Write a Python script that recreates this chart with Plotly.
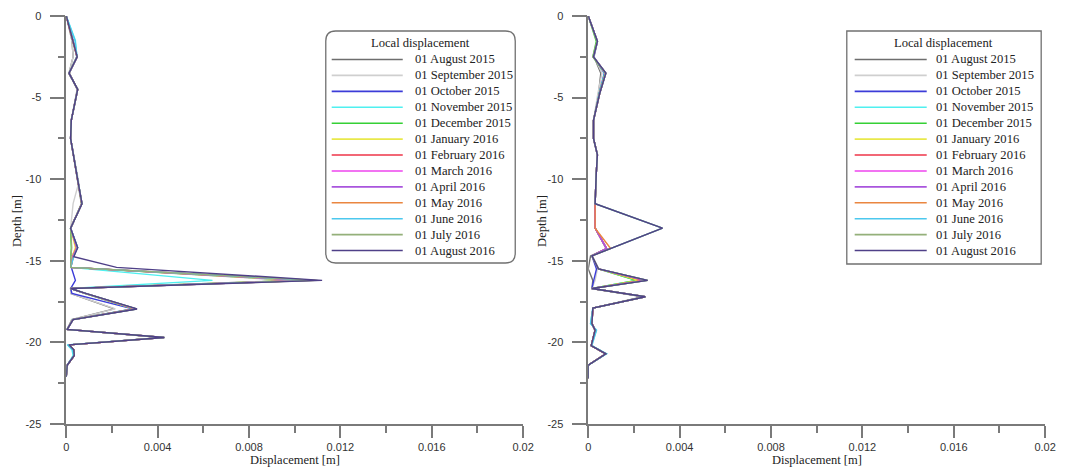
import plotly.graph_objects as go

# ---------------- data ----------------
series_names = ["01 August 2015", "01 September 2015", "01 October 2015", "01 November 2015",
                "01 December 2015", "01 January 2016", "01 February 2016", "01 March 2016",
                "01 April 2016", "01 May 2016", "01 June 2016", "01 July 2016", "01 August 2016"]
series_colors = ["#6e6e6e", "#cfcfcf", "#3c3cd8", "#4ff0f0", "#35d035", "#e8e84a", "#ee3548",
                 "#ee45ee", "#a955dd", "#ea8640", "#4cc8ee", "#94b07a", "#4f4088"]

# left borehole: depth grid [m]
left_depth = [0, -1.5, -2.5, -3.5, -4.5, -6.4, -7.5, -10.2, -11.5, -13.0, -14.2, -14.75, -15.4,
              -16.2, -16.7, -17.0, -17.95, -18.6, -19.2, -19.7, -20.15, -20.45, -20.8, -21.4, -22.1]
left_aug15 = [0, 0.00025, 0.00030, 0.00012, 0.00048, 0.00022, 0.00019, 0.00050, 0.00066, 0.00019, 0.00048, 0.00030, 0.00020,
              0.01000, 0.00019, 0.00020, 0.00210, 0.00024, 0.00004, 0.00420, 0.00012, 0.00033, 0.00035, 0.00004, 0]
left_sep15 = [0, 0.00025, 0.00030, 0.00012, 0.00048, 0.00022, 0.00019, 0.00055, 0.00030, 0.00019, 0.00048, 0.00030, 0.00020,
              0.00980, 0.00019, 0.00020, 0.00215, 0.00024, 0.00004, 0.00415, 0.00012, 0.00033, 0.00035, 0.00004, 0]
left_oct15 = [0, 0.00030, 0.00046, 0.00012, 0.00050, 0.00022, 0.00019, 0.00052, 0.00068, 0.00019, 0.00050, 0.00022, 0.00022,
              0.00040, 0.00019, 0.00025, 0.00290, 0.00028, 0.00004, 0.00425, 0.00012, 0.00033, 0.00035, 0.00004, 0]
left_nov15 = [0, 0.00040, 0.00046, 0.00012, 0.00050, 0.00022, 0.00019, 0.00052, 0.00068, 0.00019, 0.00050, 0.00025, 0.00020,
              0.00640, 0.00019, 0.00080, 0.00295, 0.00028, 0.00004, 0.00425, 0.00005, 0.00025, 0.00030, 0.00004, 0]
left_dec15 = [0, 0.00030, 0.00047, 0.00012, 0.00050, 0.00022, 0.00019, 0.00052, 0.00068, 0.00019, 0.00022, 0.00020, 0.00020,
              0.01020, 0.00019, 0.00080, 0.00295, 0.00028, 0.00004, 0.00425, 0.00012, 0.00033, 0.00035, 0.00004, 0]
left_jan16 = [0, 0.00030, 0.00047, 0.00012, 0.00050, 0.00022, 0.00019, 0.00052, 0.00068, 0.00019, 0.00040, 0.00025, 0.00020,
              0.01030, 0.00019, 0.00082, 0.00298, 0.00029, 0.00004, 0.00426, 0.00012, 0.00033, 0.00035, 0.00004, 0]
left_feb16 = [0, 0.00030, 0.00047, 0.00012, 0.00050, 0.00022, 0.00019, 0.00052, 0.00068, 0.00019, 0.00045, 0.00028, 0.00020,
              0.01060, 0.00019, 0.00083, 0.00300, 0.00029, 0.00004, 0.00427, 0.00012, 0.00033, 0.00035, 0.00004, 0]
left_mar16 = [0, 0.00030, 0.00048, 0.00012, 0.00050, 0.00022, 0.00019, 0.00052, 0.00069, 0.00019, 0.00046, 0.00028, 0.00020,
              0.01050, 0.00019, 0.00083, 0.00302, 0.00029, 0.00004, 0.00428, 0.00012, 0.00033, 0.00035, 0.00004, 0]
left_apr16 = [0, 0.00030, 0.00048, 0.00012, 0.00050, 0.00022, 0.00019, 0.00052, 0.00069, 0.00019, 0.00048, 0.00030, 0.00020,
              0.01070, 0.00019, 0.00084, 0.00304, 0.00030, 0.00004, 0.00428, 0.00012, 0.00033, 0.00035, 0.00004, 0]
left_may16 = [0, 0.00030, 0.00048, 0.00012, 0.00050, 0.00022, 0.00019, 0.00052, 0.00069, 0.00019, 0.00049, 0.00031, 0.00020,
              0.01090, 0.00019, 0.00084, 0.00306, 0.00030, 0.00004, 0.00429, 0.00012, 0.00033, 0.00035, 0.00004, 0]
left_jun16 = [0, 0.00038, 0.00048, 0.00012, 0.00050, 0.00022, 0.00019, 0.00052, 0.00069, 0.00019, 0.00049, 0.00032, 0.00020,
              0.01080, 0.00019, 0.00085, 0.00307, 0.00030, 0.00004, 0.00429, 0.00006, 0.00028, 0.00033, 0.00004, 0]
left_jul16 = [0, 0.00030, 0.00048, 0.00012, 0.00050, 0.00022, 0.00019, 0.00052, 0.00069, 0.00019, 0.00024, 0.00020, 0.00020,
              0.01100, 0.00019, 0.00085, 0.00308, 0.00030, 0.00004, 0.00430, 0.00012, 0.00033, 0.00035, 0.00004, 0]
left_aug16 = [0, 0.00028, 0.00048, 0.00012, 0.00050, 0.00022, 0.00019, 0.00052, 0.00069, 0.00019, 0.00050, 0.00033, 0.00220,
              0.01120, 0.00019, 0.00085, 0.00310, 0.00030, 0.00004, 0.00430, 0.00012, 0.00033, 0.00035, 0.00004, 0]

# right borehole: depth grid [m]
right_depth = [0, -1.55, -2.5, -3.5, -4.75, -6.4, -7.5, -8.5, -9.65, -11.5, -13.0, -14.25, -14.7, -15.5,
               -16.2, -16.7, -17.2, -17.9, -18.85, -19.25, -20.2, -20.7, -21.4, -22.2]
right_aug15 = [0, 0.00040, 0.00025, 0.00055, 0.00045, 0.00023, 0.00023, 0.00040, 0.00035, 0.00030, 0.00030, 0.00080, 0.00010, 0.00000,
               0.00020, 0.00016, 0.00240, 0.00020, 0.00016, 0.00030, 0.00013, 0.00075, 0, 0]
right_sep15 = [0, 0.00040, 0.00026, 0.00060, 0.00042, 0.00023, 0.00023, 0.00040, 0.00035, 0.00030, 0.00030, 0.00078, 0.00016, 0.00040,
               0.00030, 0.00016, 0.00245, 0.00020, 0.00014, 0.00028, 0.00013, 0.00076, 0, 0]
right_oct15 = [0, 0.00040, 0.00024, 0.00070, 0.00048, 0.00023, 0.00023, 0.00040, 0.00035, 0.00030, 0.00030, 0.00080, 0.00016, 0.00036,
               0.00024, 0.00016, 0.00248, 0.00020, 0.00016, 0.00030, 0.00013, 0.00076, 0, 0]
right_nov15 = [0, 0.00040, 0.00024, 0.00072, 0.00048, 0.00023, 0.00023, 0.00040, 0.00035, 0.00030, 0.00030, 0.00080, 0.00016, 0.00045,
               0.00210, 0.00016, 0.00248, 0.00020, 0.00010, 0.00036, 0.00013, 0.00080, 0, 0]
right_dec15 = [0, 0.00035, 0.00020, 0.00074, 0.00049, 0.00023, 0.00023, 0.00040, 0.00035, 0.00030, 0.00030, 0.00080, 0.00016, 0.00045,
               0.00210, 0.00016, 0.00249, 0.00020, 0.00016, 0.00030, 0.00013, 0.00077, 0, 0]
right_jan16 = [0, 0.00040, 0.00023, 0.00075, 0.00050, 0.00023, 0.00023, 0.00040, 0.00035, 0.00030, 0.00030, 0.00080, 0.00016, 0.00045,
               0.00220, 0.00016, 0.00249, 0.00020, 0.00016, 0.00030, 0.00013, 0.00077, 0, 0]
right_feb16 = [0, 0.00040, 0.00023, 0.00076, 0.00050, 0.00023, 0.00023, 0.00040, 0.00035, 0.00030, 0.00030, 0.00080, 0.00016, 0.00045,
               0.00240, 0.00016, 0.00250, 0.00020, 0.00016, 0.00030, 0.00013, 0.00077, 0, 0]
right_mar16 = [0, 0.00040, 0.00023, 0.00076, 0.00050, 0.00023, 0.00023, 0.00040, 0.00035, 0.00030, 0.00030, 0.00080, 0.00016, 0.00045,
               0.00250, 0.00016, 0.00250, 0.00020, 0.00016, 0.00030, 0.00013, 0.00077, 0, 0]
right_apr16 = [0, 0.00040, 0.00023, 0.00077, 0.00050, 0.00023, 0.00023, 0.00040, 0.00035, 0.00030, 0.00030, 0.00080, 0.00016, 0.00045,
               0.00250, 0.00016, 0.00250, 0.00020, 0.00016, 0.00030, 0.00013, 0.00077, 0, 0]
right_may16 = [0, 0.00040, 0.00023, 0.00077, 0.00050, 0.00023, 0.00023, 0.00040, 0.00035, 0.00030, 0.00030, 0.00098, 0.00016, 0.00045,
               0.00260, 0.00016, 0.00250, 0.00020, 0.00016, 0.00030, 0.00013, 0.00077, 0, 0]
right_jun16 = [0, 0.00040, 0.00023, 0.00077, 0.00050, 0.00023, 0.00023, 0.00040, 0.00035, 0.00030, 0.00325, 0.00098, 0.00016, 0.00045,
               0.00260, 0.00016, 0.00250, 0.00020, 0.00010, 0.00036, 0.00016, 0.00080, 0, 0]
right_jul16 = [0, 0.00038, 0.00020, 0.00077, 0.00050, 0.00023, 0.00023, 0.00040, 0.00035, 0.00030, 0.00325, 0.00098, 0.00016, 0.00045,
               0.00260, 0.00016, 0.00250, 0.00020, 0.00016, 0.00030, 0.00013, 0.00077, 0, 0]
right_aug16 = [0, 0.00040, 0.00023, 0.00077, 0.00050, 0.00023, 0.00023, 0.00040, 0.00035, 0.00030, 0.00325, 0.00098, 0.00016, 0.00045,
               0.00260, 0.00016, 0.00250, 0.00020, 0.00016, 0.00030, 0.00013, 0.00077, 0, 0]

left_series = [left_aug15, left_sep15, left_oct15, left_nov15, left_dec15, left_jan16, left_feb16,
               left_mar16, left_apr16, left_may16, left_jun16, left_jul16, left_aug16]
right_series = [right_aug15, right_sep15, right_oct15, right_nov15, right_dec15, right_jan16, right_feb16,
                right_mar16, right_apr16, right_may16, right_jun16, right_jul16, right_aug16]

x_ticks = [0, 0.004, 0.008, 0.012, 0.016, 0.02]
y_ticks = [0, -5, -10, -15, -20, -25]
y_ticktext = ["0", "-5", "-10", "-15", "-20", "-25"]
y_minor = [-2.5, -7.5, -12.5, -17.5, -22.5]
legend_title = "Local displacement"

# ---------------- figure ----------------
# the page body has an 8px default margin, so the figure is made 8px smaller
OFF = 8
VW, VH = 1066, 468
W, H = VW - OFF, VH - OFF
TOP, BOT = 16, 424   # screen pixel rows of the plot area


def px(x):
    return (x - OFF) / W


def py(y):
    return (BOT - y) / (BOT - TOP)


fig = go.Figure()
for xs, name, col in zip(left_series, series_names, series_colors):
    fig.add_trace(go.Scatter(x=xs, y=left_depth, mode="lines", name=name,
                             line=dict(color=col, width=1.4), showlegend=False,
                             xaxis="x", yaxis="y", cliponaxis=False))
for xs, name, col in zip(right_series, series_names, series_colors):
    fig.add_trace(go.Scatter(x=xs, y=right_depth, mode="lines", name=name,
                             line=dict(color=col, width=1.4), showlegend=False,
                             xaxis="x2", yaxis="y2", cliponaxis=False))

AX = "#7a7a7a"
tickfont = dict(family="Liberation Sans, Arial", size=11, color="#333333")


def xaxis(dom, anchor):
    return dict(domain=dom, anchor=anchor, range=[0, 0.02], showline=True, linecolor=AX, linewidth=1.5,
                ticks="outside", ticklen=12, tickwidth=1.5, tickcolor=AX, tickmode="array",
                tickvals=x_ticks, ticktext=[f"{v:g}" for v in x_ticks],
                minor=dict(ticks="outside", ticklen=7, tickwidth=1.5, tickcolor=AX, dtick=0.002, tick0=0),
                showgrid=False, zeroline=False, tickfont=tickfont, fixedrange=True)


def yaxis(anchor):
    return dict(domain=[0, 1], anchor=anchor, range=[-25, 0], showline=True, linecolor=AX, linewidth=1.5,
                ticks="outside", ticklen=15, tickwidth=1.5, tickcolor=AX, tickmode="array",
                tickvals=y_ticks, ticktext=y_ticktext,
                minor=dict(ticks="outside", ticklen=7, tickwidth=1.5, tickcolor=AX, tickmode="array",
                           tickvals=y_minor),
                showgrid=False, zeroline=False, tickfont=tickfont, fixedrange=True,
                ticklabelstandoff=6)


LD = [px(64), px(527)]
RD = [px(593), px(1056)]

fig.update_layout(
    width=W, height=H, margin=dict(l=0, r=0, t=TOP - OFF, b=VH - BOT, pad=0),
    paper_bgcolor="white", plot_bgcolor="white", showlegend=False,
    xaxis=xaxis(LD, "y"), yaxis=yaxis("x"),
    xaxis2=xaxis(RD, "y2"), yaxis2=yaxis("x2"),
)

serif = "Liberation Serif, Times New Roman, serif"
ann = []
shapes = []
# axis titles
for dom in (LD, RD):
    ann.append(dict(x=(dom[0] + dom[1]) / 2, y=py(460), xref="paper", yref="paper", text="Displacement [m]",
                    showarrow=False, xanchor="center", yanchor="middle",
                    font=dict(family=serif, size=12.5, color="#222")))
for xc in (14, 546):
    ann.append(dict(x=px(xc), y=py(221), xref="paper", yref="paper", text="Depth [m]", textangle=-90,
                    showarrow=False, xanchor="center", yanchor="middle",
                    font=dict(family=serif, size=12.5, color="#222")))


def rounded_path(x0, y0, x1, y1, r):
    pts = [
        ("M", [(x0 + r, y0)]), ("L", [(x1 - r, y0)]), ("Q", [(x1, y0), (x1, y0 + r)]),
        ("L", [(x1, y1 - r)]), ("Q", [(x1, y1), (x1 - r, y1)]), ("L", [(x0 + r, y1)]),
        ("Q", [(x0, y1), (x0, y1 - r)]), ("L", [(x0, y0 + r)]), ("Q", [(x0, y0), (x0 + r, y0)]),
    ]
    s = ""
    for cmd, ps in pts:
        s += cmd + " ".join(f"{px(a):.5f},{py(b):.5f}" for a, b in ps) + " "
    return s + "Z"


# legend boxes
boxes = [
    dict(x0=327, x1=519, y0=31, y1=263, r=10, lx0=333, lx1=405, tx=415),
    dict(x0=855, x1=1052, y0=31, y1=264, r=0, lx0=863, lx1=936, tx=943),
]
for b in boxes:
    if b["r"] > 0:
        shapes.append(dict(type="path", xref="paper", yref="paper",
                           path=rounded_path(b["x0"], b["y0"], b["x1"], b["y1"], b["r"]),
                           line=dict(color="#707070", width=1.3), fillcolor="rgba(255,255,255,0)"))
    else:
        shapes.append(dict(type="rect", xref="paper", yref="paper", x0=px(b["x0"]), x1=px(b["x1"]),
                           y0=py(b["y0"]), y1=py(b["y1"]), line=dict(color="#707070", width=1.3)))
    ann.append(dict(x=px((b["x0"] + b["x1"]) / 2), y=py(43.5), xref="paper", yref="paper", text=legend_title,
                    showarrow=False, xanchor="center", yanchor="middle",
                    font=dict(family=serif, size=12.6, color="#222")))
    for i, (name, col) in enumerate(zip(series_names, series_colors)):
        yy = 59.5 + i * 15.92
        shapes.append(dict(type="line", xref="paper", yref="paper", x0=px(b["lx0"]), x1=px(b["lx1"]),
                           y0=py(yy), y1=py(yy), line=dict(color=col, width=1.6)))
        ann.append(dict(x=px(b["tx"]), y=py(yy), xref="paper", yref="paper", text=name, showarrow=False,
                        xanchor="left", yanchor="middle",
                        font=dict(family=serif, size=12.6, color="#222")))

fig.update_layout(annotations=ann, shapes=shapes)
fig.write_html("out.html")
